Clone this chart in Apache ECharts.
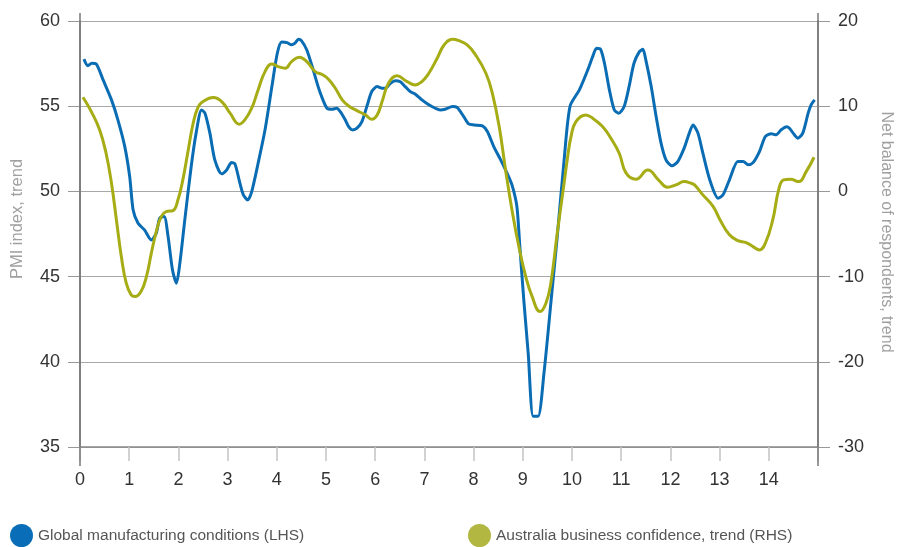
<!DOCTYPE html>
<html><head><meta charset="utf-8">
<script src="https://cdn.jsdelivr.net/npm/echarts@6/dist/echarts.min.js"></script>
<style>html,body{margin:0;padding:0;background:#fff}#c{width:905px;height:547px}</style>
</head><body><div id="c"></div>
<script>
// ---- data ----
const seriesNames = ['Global manufacturing conditions (LHS)', 'Australia business confidence, trend (RHS)'];
const xTickLabels = ['0','1','2','3','4','5','6','7','8','9','10','11','12','13','14'];
const leftTicks = [35, 40, 45, 50, 55, 60];
const rightTicks = [-30, -20, -10, 0, 10, 20];

const blueX = [0.08,0.16,0.24,0.33,0.47,0.64,0.77,0.91,1.01,1.08,1.18,1.31,1.45,1.55,1.62,1.71,1.79,1.88,1.96,2.03,2.13,2.26,2.36,2.47,2.54,2.64,2.74,2.88,2.98,3.08,3.15,3.25,3.32,3.41,3.49,3.62,3.76,3.9,4.01,4.1,4.21,4.3,4.37,4.44,4.5,4.61,4.74,4.84,4.92,5.02,5.12,5.22,5.29,5.39,5.46,5.54,5.63,5.73,5.83,5.93,6.04,6.14,6.21,6.31,6.41,6.51,6.61,6.71,6.81,6.95,7.09,7.22,7.32,7.42,7.57,7.67,7.8,7.9,8.01,8.18,8.28,8.41,8.55,8.68,8.78,8.88,8.94,9.02,9.11,9.21,9.31,9.43,9.57,9.7,9.84,9.96,10.15,10.32,10.42,10.5,10.58,10.66,10.76,10.86,10.95,11.06,11.16,11.26,11.37,11.44,11.5,11.61,11.71,11.81,11.91,12.03,12.15,12.28,12.36,12.46,12.56,12.66,12.8,12.97,13.07,13.2,13.37,13.48,13.58,13.68,13.81,13.93,14.05,14.15,14.25,14.36,14.42,14.52,14.59,14.69,14.8,14.86,14.93];
const blueY = [57.76,57.37,57.52,57.48,56.54,55.37,54.2,52.63,50.87,48.91,48.13,47.74,47.15,47.55,48.43,48.52,47.35,45.39,44.61,45.79,48.33,51.46,53.42,54.78,54.59,53.42,51.85,51.03,51.26,51.69,51.61,50.48,49.8,49.5,49.99,51.65,53.6,56.15,58.11,58.77,58.73,58.6,58.7,58.93,58.85,58.3,57.13,56.15,55.5,54.88,54.82,54.88,54.68,54.2,53.8,53.61,53.71,54.1,54.98,55.86,56.15,56.06,56.06,56.35,56.5,56.44,56.15,55.86,55.72,55.37,55.08,54.88,54.78,54.82,54.98,54.92,54.39,53.96,53.9,53.84,53.51,52.63,51.85,51.07,50.38,49.11,46.76,43.63,40.5,36.8,36.8,39.33,43.44,47.35,51.85,55.0,55.96,57.13,57.91,58.4,58.34,57.52,55.96,54.78,54.59,54.98,56.15,57.52,58.2,58.34,57.72,56.15,54.39,52.83,51.85,51.5,51.75,52.54,53.22,53.9,53.42,52.24,50.68,49.6,49.8,50.68,51.75,51.75,51.56,51.69,52.34,53.22,53.38,53.32,53.61,53.8,53.71,53.32,53.12,53.42,54.59,55.08,55.37];

const greenX = [0.06,0.23,0.4,0.53,0.64,0.74,0.84,0.94,1.04,1.12,1.24,1.35,1.45,1.55,1.65,1.75,1.89,1.99,2.09,2.2,2.3,2.4,2.5,2.71,2.88,3.05,3.24,3.35,3.49,3.62,3.76,3.9,4.03,4.17,4.3,4.46,4.61,4.78,4.94,5.05,5.19,5.33,5.46,5.63,5.8,5.93,6.04,6.14,6.27,6.44,6.65,6.81,6.95,7.09,7.26,7.4,7.57,7.7,7.87,8.04,8.25,8.38,8.52,8.65,8.78,8.92,9.06,9.19,9.35,9.47,9.57,9.7,9.84,9.91,9.98,10.08,10.28,10.42,10.62,10.79,10.96,11.1,11.3,11.54,11.77,11.94,12.11,12.28,12.42,12.49,12.66,12.87,13.01,13.2,13.37,13.54,13.68,13.81,13.93,14.08,14.2,14.3,14.44,14.61,14.76,14.92];
const greenY = [11.05,9.37,7.22,4.48,0.96,-3.35,-7.65,-10.78,-12.15,-12.35,-11.76,-10.0,-7.25,-4.72,-2.96,-2.37,-2.25,-1.0,1.35,4.87,8.0,9.88,10.54,11.01,10.54,9.18,7.89,8.39,9.77,11.91,14.06,14.96,14.65,14.46,15.23,15.75,15.23,14.06,13.67,13.17,12.11,10.74,10.03,9.48,8.98,8.47,8.98,10.54,12.7,13.56,12.89,12.5,12.89,13.87,15.63,17.19,17.86,17.7,17.19,16.02,13.87,11.53,7.61,2.52,-2.17,-6.48,-10.0,-12.35,-14.11,-13.12,-10.77,-4.91,1.0,4.0,6.43,8.19,8.98,8.59,7.61,6.24,4.48,2.14,1.43,2.5,1.27,0.49,0.76,1.15,0.96,0.76,-0.41,-1.78,-3.35,-5.1,-5.77,-6.01,-6.48,-6.87,-6.08,-3.35,0.17,1.35,1.43,1.15,2.32,4.01];

// ---- chart ----
const FONT = "'Liberation Sans',Arial,sans-serif";
const chart = echarts.init(document.getElementById('c'), null, {renderer: 'canvas'});
const zip = (xs, ys) => xs.map((x, i) => [x, ys[i]]);

const option = {
  animation: false,
  backgroundColor: '#fff',
  grid: {left: 80, right: 87, top: 21, bottom: 100, containLabel: false},
  xAxis: {
    type: 'value', min: 0, max: 15, interval: 1,
    axisLine: {show: true, onZero: false, lineStyle: {color: '#888', width: 1.5}},
    axisTick: {show: true, length: 14, lineStyle: {color: '#c4c4c4', width: 1.5}},
    axisLabel: {
      color: '#333', fontSize: 18, fontFamily: FONT, margin: 24,
      formatter: v => (v >= 0 && v < xTickLabels.length && Number.isInteger(v)) ? xTickLabels[v] : ''
    },
    splitLine: {show: false}
  },
  yAxis: [
    {
      type: 'value', min: leftTicks[0], max: leftTicks[leftTicks.length - 1], interval: 5, position: 'left',
      axisLine: {show: true, lineStyle: {color: '#777', width: 1.5}},
      axisTick: {show: true, length: 12, lineStyle: {color: '#999'}},
      axisLabel: {color: '#333', fontSize: 18, fontFamily: FONT, margin: 20},
      splitLine: {show: true, lineStyle: {color: '#a8a8a8', width: 1.2}}
    },
    {
      type: 'value', min: rightTicks[0], max: rightTicks[rightTicks.length - 1], interval: 10, position: 'right',
      axisLine: {show: true, lineStyle: {color: '#777', width: 1.5}},
      axisTick: {show: true, length: 12, lineStyle: {color: '#999'}},
      axisLabel: {color: '#333', fontSize: 18, fontFamily: FONT, margin: 20},
      splitLine: {show: false}
    }
  ],
  legend: [
    {
      data: [seriesNames[0]], left: 5, top: 519, icon: 'circle', itemWidth: 23, itemHeight: 23,
      textStyle: {color: '#555', fontSize: 15.5, fontFamily: FONT}
    },
    {
      data: [seriesNames[1]], left: 463, top: 519, icon: 'circle', itemWidth: 23, itemHeight: 23,
      textStyle: {color: '#555', fontSize: 15.5, fontFamily: FONT}
    }
  ],
  series: [
    {
      name: seriesNames[0], type: 'line', yAxisIndex: 0, showSymbol: false,
      smooth: 0.25,
      data: zip(blueX, blueY),
      lineStyle: {color: '#0a6db4', width: 3},
      itemStyle: {color: '#0a6db8'}
    },
    {
      name: seriesNames[1], type: 'line', yAxisIndex: 1, showSymbol: false,
      smooth: 0.45,
      data: zip(greenX, greenY),
      lineStyle: {color: '#a6ac14', width: 3},
      itemStyle: {color: '#b2b742'}
    }
  ]
};
chart.setOption(option);

// axis-line extensions and axis titles
const pTL = chart.convertToPixel({gridIndex: 0}, [0, 60]);
const pBR = chart.convertToPixel({gridIndex: 0}, [15, 35]);
const L = pTL[0], T = pTL[1], R = pBR[0], B = pBR[1];
chart.setOption({
  graphic: [
    {type: 'line', shape: {x1: L, y1: T - 8, x2: L, y2: B + 19}, style: {stroke: '#777', lineWidth: 1.5}, z: 10},
    {type: 'line', shape: {x1: R, y1: T - 8, x2: R, y2: B + 19}, style: {stroke: '#777', lineWidth: 1.5}, z: 10},
    {type: 'text', x: 17, y: 219, rotation: Math.PI / 2,
      style: {text: 'PMI index, trend', fill: '#a0a0a0', font: "16.5px " + FONT, textAlign: 'center', textVerticalAlign: 'middle'}},
    {type: 'text', x: 886, y: 232, rotation: -Math.PI / 2,
      style: {text: 'Net balance of respondents, trend', fill: '#a0a0a0', font: "16px " + FONT, textAlign: 'center', textVerticalAlign: 'middle'}}
  ]
});
</script>
</body></html>
